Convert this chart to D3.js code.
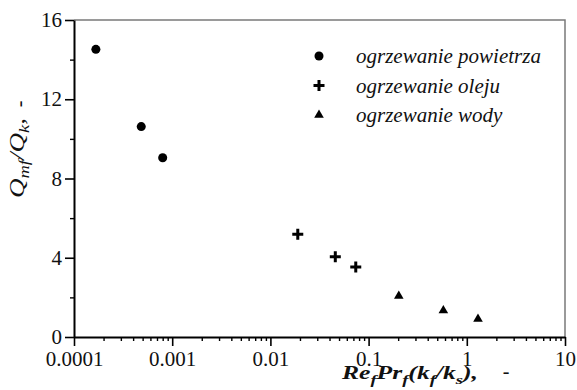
<!DOCTYPE html>
<html>
<head>
<meta charset="utf-8">
<script src="https://cdn.jsdelivr.net/npm/d3@7"></script>
</head>
<body style="margin:0">
<div id="viz"></div>
<script>
// wartosci
const seriesNames = ["ogrzewanie powietrza", "ogrzewanie oleju", "ogrzewanie wody"];
const powietrzeX = [1.67e-4, 4.84e-4, 8.0e-4];
const powietrzeY = [14.52, 10.62, 9.05];
const olejX = [0.0190, 0.0458, 0.0740];
const olejY = [5.18, 4.05, 3.53];
const wodaX = [0.203, 0.577, 1.30];
const wodaY = [2.07, 1.34, 0.91];

const xTickValues = [1e-4, 1e-3, 1e-2, 1e-1, 1, 10];
const xTickLabels = ["0.0001", "0.001", "0.01", "0.1", "1", "10"];
const yTickValues = [0, 4, 8, 12, 16];
const yMinorValues = [2, 6, 10, 14];

const FONT = '"Liberation Serif"';

const width = 577,
  height = 390;

const margin = {top: 20, right: 12, bottom: 53, left: 74};

const svg = d3.select("#viz")
  .append("svg")
  .attr("width", width)
  .attr("height", height)
  .attr("viewBox", [0, 0, width, height]);

const x = d3.scaleLog()
  .domain([1e-4, 10])
  .range([margin.left, width - margin.right]);

const y = d3.scaleLinear()
  .domain([0, 16])
  .range([height - margin.bottom, margin.top]);

// minor log ticks 2..9 in each decade
const xMinorValues = [];
xTickValues.slice(0, -1).forEach(d => {
  for (let k = 2; k <= 9; k++) xMinorValues.push(d * k);
});

// szara ramka (gora i prawo)
svg.append("path")
  .attr("d", `M${x.range()[0]},${y(16)}H${x.range()[1]}V${y(0)}`)
  .attr("fill", "none")
  .attr("stroke", "#7a7a7a")
  .attr("stroke-width", 1.5);

const styleAxis = g => {
  g.select(".domain").attr("stroke", "#000").attr("stroke-width", 2);
  g.selectAll(".tick line").attr("stroke", "#000").attr("stroke-width", 1.6);
  g.selectAll(".tick text")
    .attr("fill", "#111")
    .style("font-family", FONT)
    .style("font-size", "21px");
};

svg.append("g")
  .attr("transform", `translate(0,${y(0)})`)
  .call(d3.axisBottom(x).tickValues(xMinorValues).tickSize(4).tickFormat(""))
  .call(g => g.select(".domain").remove())
  .call(g => g.selectAll(".tick line").attr("stroke", "#000").attr("stroke-width", 1.4));

svg.append("g")
  .attr("transform", `translate(${margin.left},0)`)
  .call(d3.axisLeft(y).tickValues(yMinorValues).tickSize(4).tickFormat(""))
  .call(g => g.select(".domain").remove())
  .call(g => g.selectAll(".tick line").attr("stroke", "#000").attr("stroke-width", 1.4));

svg.append("g")
  .attr("transform", `translate(0,${y(0)})`)
  .call(d3.axisBottom(x)
    .tickValues(xTickValues)
    .tickFormat((d, i) => xTickLabels[i])
    .tickSize(9)
    .tickSizeOuter(0)
    .tickPadding(5))
  .call(styleAxis);

svg.append("g")
  .attr("transform", `translate(${margin.left},0)`)
  .call(d3.axisLeft(y)
    .tickValues(yTickValues)
    .tickSize(9)
    .tickSizeOuter(0)
    .tickPadding(3))
  .call(styleAxis);

// tytul osi X
const xTitle = svg.append("text")
  .attr("x", 342)
  .attr("y", 379)
  .attr("font-size", 18)
  .attr("font-weight", "bold")
  .attr("font-style", "italic")
  .style("font-family", FONT)
  .attr("fill", "#111");
xTitle.append("tspan").text("Re");
xTitle.append("tspan").attr("dy", 5).attr("font-size", 13).text("f");
xTitle.append("tspan").attr("dy", -5).text("Pr");
xTitle.append("tspan").attr("dy", 5).attr("font-size", 13).text("f");
xTitle.append("tspan").attr("dy", -5).text("(k");
xTitle.append("tspan").attr("dy", 5).attr("font-size", 13).text("f");
xTitle.append("tspan").attr("dy", -5).text("/k");
xTitle.append("tspan").attr("dy", 5).attr("font-size", 13).text("s");
xTitle.append("tspan").attr("dy", -5).text("),");
// rozciagniecie jak w oryginale
const xTitleLen = xTitle.node().getComputedTextLength();
xTitle.attr("transform", `translate(342,0) scale(${136 / xTitleLen},1) translate(-342,0)`);

svg.append("text")
  .attr("x", 506)
  .attr("y", 378)
  .attr("text-anchor", "middle")
  .attr("font-size", 20)
  .style("font-family", FONT)
  .attr("fill", "#111")
  .text("-");

// tytul osi Y
const yTitle = svg.append("text")
  .attr("text-anchor", "middle")
  .attr("font-size", 22)
  .attr("font-style", "italic")
  .style("font-family", FONT)
  .attr("fill", "#111");
yTitle.append("tspan").text("Q");
yTitle.append("tspan").attr("dy", 5).attr("font-size", 15).text("mf");
yTitle.append("tspan").attr("dy", -5).text("/Q");
yTitle.append("tspan").attr("dy", 5).attr("font-size", 15).text("k");
yTitle.append("tspan").attr("dy", -5).text(",");
const yTitleLen = yTitle.node().getComputedTextLength();
yTitle.attr("transform", `translate(24,158) rotate(-90) scale(${80 / yTitleLen},1)`);

svg.append("text")
  .attr("transform", `translate(26,104) rotate(-90)`)
  .attr("text-anchor", "middle")
  .attr("font-size", 20)
  .style("font-family", FONT)
  .attr("fill", "#111")
  .text("-");

// symbole
const plus = {
  draw(ctx, size) {
    const r = Math.sqrt(size) / 2;
    ctx.moveTo(-r, 0); ctx.lineTo(r, 0);
    ctx.moveTo(0, -r); ctx.lineTo(0, r);
  }
};

const series = [
  {name: seriesNames[0], xs: powietrzeX, ys: powietrzeY, type: d3.symbolCircle, size: 64, stroke: false},
  {name: seriesNames[1], xs: olejX, ys: olejY, type: plus, size: 121, stroke: true},
  {name: seriesNames[2], xs: wodaX, ys: wodaY, type: d3.symbolTriangle, size: 40, stroke: false}
];

series.forEach(s => {
  const pts = s.xs.map((v, i) => ({x: v, y: s.ys[i]}));
  const sym = d3.symbol().type(s.type).size(s.size);
  svg.append("g")
    .selectAll("path")
    .data(pts)
    .join("path")
    .attr("transform", d => `translate(${x(d.x)},${y(d.y)})`)
    .attr("d", sym)
    .attr("fill", s.stroke ? "none" : "#000")
    .attr("stroke", s.stroke ? "#000" : "none")
    .attr("stroke-width", 3);
});

// legenda
const legendY = d3.scalePoint()
  .domain(seriesNames)
  .range([56, 115]);

const legend = svg.append("g")
  .selectAll("g")
  .data(series)
  .join("g")
  .attr("transform", d => `translate(319,${legendY(d.name)})`);

legend.append("path")
  .attr("d", d => d3.symbol().type(d.type).size(d.size)())
  .attr("fill", d => d.stroke ? "none" : "#000")
  .attr("stroke", d => d.stroke ? "#000" : "none")
  .attr("stroke-width", 3);

legend.append("text")
  .attr("x", 37)
  .attr("y", 7)
  .attr("font-size", 21)
  .attr("font-style", "italic")
  .style("font-family", FONT)
  .attr("fill", "#111")
  .text(d => d.name);
</script>
</body>
</html>
